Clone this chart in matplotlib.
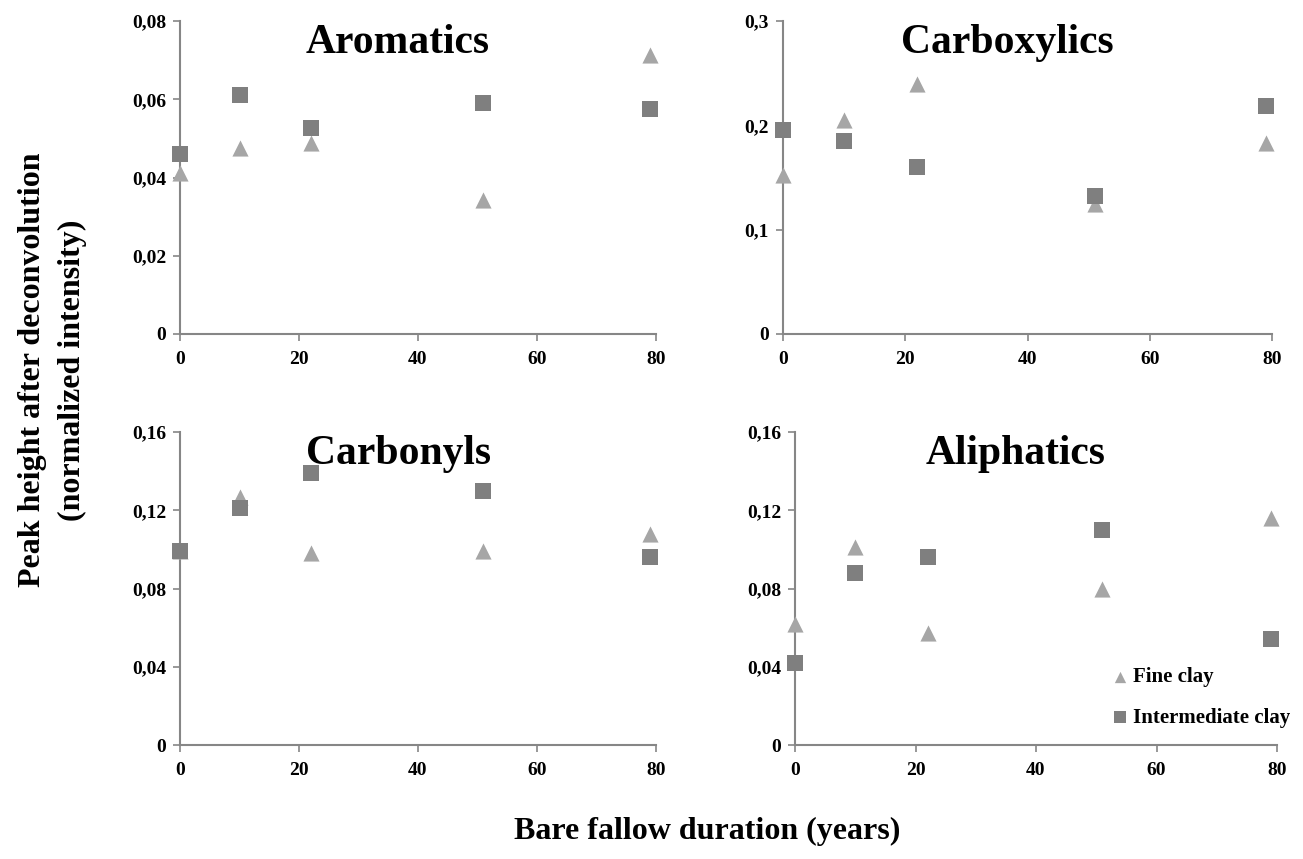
import matplotlib.pyplot as plt
from matplotlib.ticker import FuncFormatter

plt.rcParams['font.family'] = ['Liberation Serif', 'DejaVu Serif']
plt.rcParams['font.weight'] = 'bold'

# bare fallow duration (years)
years = [0, 10, 22, 51, 79]

titles = ["Aromatics", "Carboxylics", "Carbonyls", "Aliphatics"]

fine_aromatics = [0.0411, 0.0475, 0.0488, 0.0342, 0.0713]
inter_aromatics = [0.0460, 0.0612, 0.0527, 0.0590, 0.0575]

fine_carboxylics = [0.152, 0.205, 0.240, 0.125, 0.183]
inter_carboxylics = [0.196, 0.185, 0.160, 0.132, 0.219]

fine_carbonyls = [0.099, 0.127, 0.098, 0.099, 0.108]
inter_carbonyls = [0.099, 0.121, 0.139, 0.130, 0.096]

fine_aliphatics = [0.062, 0.101, 0.057, 0.080, 0.116]
inter_aliphatics = [0.042, 0.088, 0.096, 0.110, 0.054]

fine = [fine_aromatics, fine_carboxylics, fine_carbonyls, fine_aliphatics]
inter = [inter_aromatics, inter_carboxylics, inter_carbonyls, inter_aliphatics]
ymax = [0.08, 0.3, 0.16, 0.16]
ystep = [0.02, 0.1, 0.04, 0.04]

W, H = 1303, 859
# axes boxes in pixels: left, right, top, bottom
boxes = [(180, 656, 21, 334), (783, 1272, 21, 334),
         (180, 656, 432, 745), (795, 1277, 432, 745)]

fig = plt.figure(figsize=(W / 100, H / 100), dpi=100)

spine_col = '#868686'
fine_col = '#a6a6a6'
inter_col = '#7f7f7f'


def comma(v, pos):
    if abs(v) < 1e-12:
        return "0"
    s = ("%.2f" % v).rstrip('0')
    if s.endswith('.'):
        s = s[:-1]
    return s.replace('.', ',')


handles = None
for i in range(4):
    l, r, t, b = boxes[i]
    ax = fig.add_axes([l / W, 1 - b / H, (r - l) / W, (b - t) / H])
    h1 = ax.scatter(years, fine[i], marker='^', s=135, color=fine_col, label='Fine clay',
                    zorder=3, linewidths=0, clip_on=False)
    h2 = ax.scatter(years, inter[i], marker='s', s=135, color=inter_col, label='Intermediate clay',
                    zorder=3, linewidths=0, clip_on=False)
    handles = [h1, h2]
    ax.set_xlim(0, 80)
    ax.set_ylim(0, ymax[i])
    ax.set_xticks([0, 20, 40, 60, 80])
    n = int(round(ymax[i] / ystep[i]))
    ax.set_yticks([k * ystep[i] for k in range(n + 1)])
    ax.yaxis.set_major_formatter(FuncFormatter(comma))
    for side in ['top', 'right']:
        ax.spines[side].set_visible(False)
    for side in ['left', 'bottom']:
        ax.spines[side].set_color(spine_col)
        ax.spines[side].set_linewidth(1.5)
    ax.tick_params(axis='both', colors=spine_col, labelcolor='black', labelsize=14, length=5, width=1.2)
    ax.tick_params(axis='x', pad=7)
    ax.tick_params(axis='y', pad=5)
    for lab in ax.get_xticklabels() + ax.get_yticklabels():
        lab.set_fontweight('bold')
    # title sits a little left of the panel centre
    cx = (l + r) / 2 - 20
    fig.text(cx / W, 1 - (t + 32) / H, titles[i], ha='center', va='baseline',
             fontsize=30, fontweight='bold')

fig.legend(handles, ['Fine clay', 'Intermediate clay'], loc='upper left',
           bbox_to_anchor=(1112 / W, 1 - 667 / H), frameon=False,
           handletextpad=0.2, handlelength=0.8, labelspacing=1.0, markerscale=0.7,
           borderaxespad=0.0, borderpad=0.0, prop={'weight': 'bold', 'size': 15})

fig.text(33 / W, 1 - 370 / H, "Peak height after deconvolution", rotation=90,
         ha='center', va='center', fontsize=23, fontweight='bold')
fig.text(72 / W, 1 - 370 / H, "(normalized intensity)", rotation=90,
         ha='center', va='center', fontsize=23, fontweight='bold')
fig.text(707 / W, 1 - 831 / H, "Bare fallow duration (years)", ha='center', va='center',
         fontsize=23, fontweight='bold')

fig.savefig("out.png", dpi=100)
